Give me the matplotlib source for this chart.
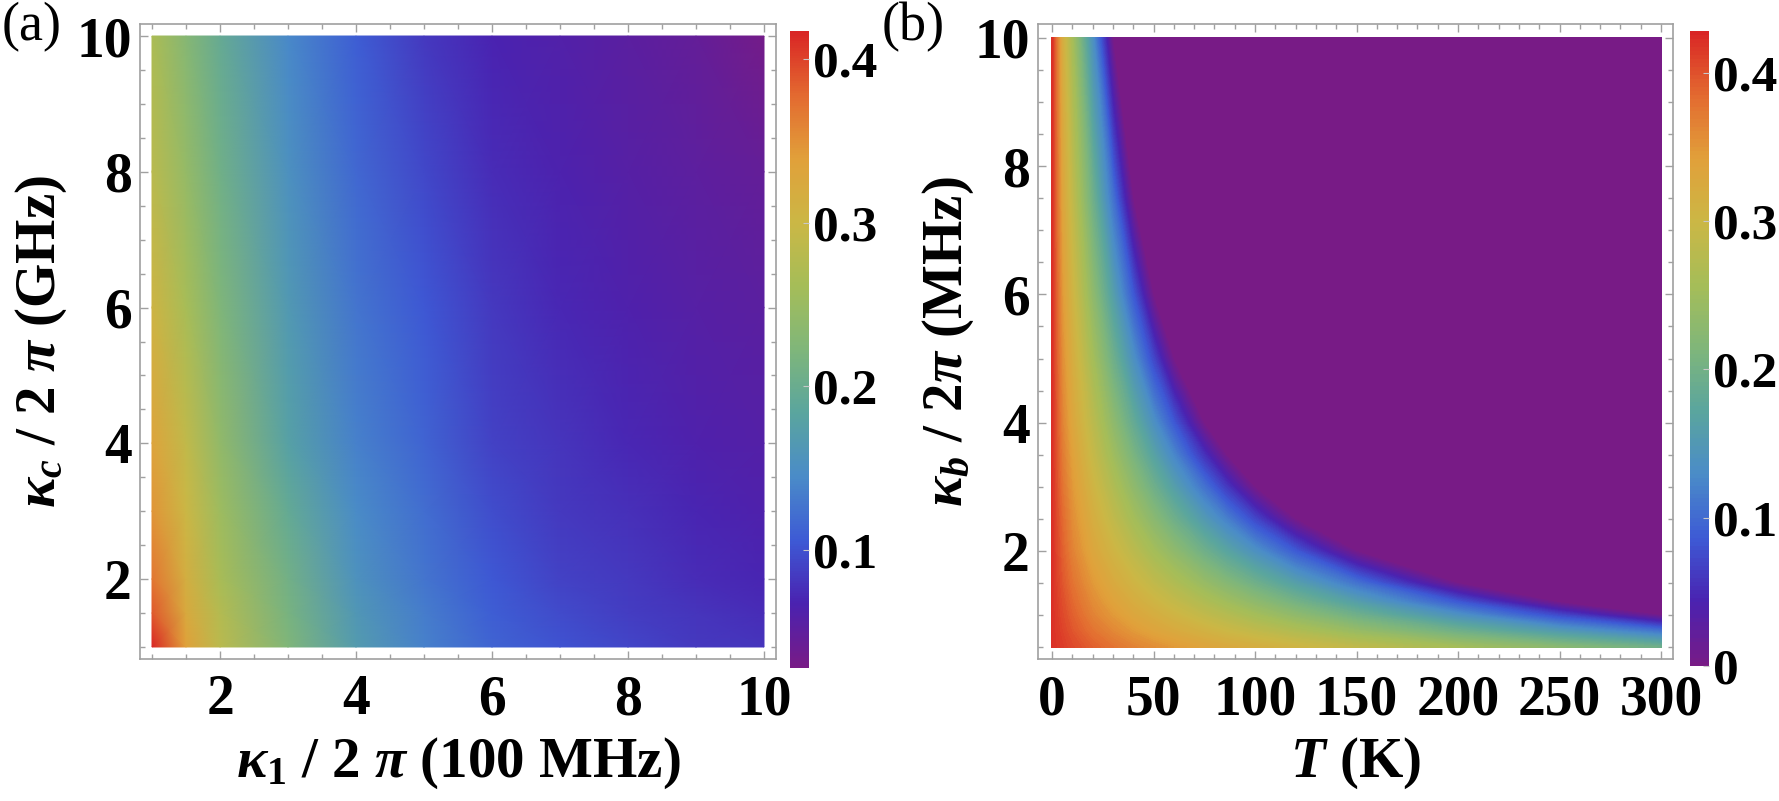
import matplotlib

matplotlib.use('Agg')
import matplotlib.pyplot as plt
from matplotlib.colors import LinearSegmentedColormap
from matplotlib.ticker import MultipleLocator
import numpy as np

# panel (a): kappa_1 / 2pi (100 MHz) vs kappa_c / 2pi (GHz)
k1_vals = [1, 1.5, 2, 3, 4, 5, 6, 7, 8, 9, 10]
kc_vals = [1, 1.5, 2, 3, 4, 6, 8, 10]
a_rows = [
    [0.417, 0.337, 0.283, 0.224, 0.169, 0.137, 0.114, 0.101, 0.092, 0.084, 0.080],
    [0.387, 0.324, 0.276, 0.216, 0.163, 0.133, 0.110, 0.095, 0.087, 0.080, 0.074],
    [0.369, 0.315, 0.266, 0.210, 0.155, 0.128, 0.105, 0.090, 0.083, 0.075, 0.070],
    [0.347, 0.301, 0.254, 0.194, 0.146, 0.121, 0.097, 0.084, 0.077, 0.070, 0.064],
    [0.333, 0.290, 0.242, 0.178, 0.137, 0.114, 0.090, 0.080, 0.072, 0.064, 0.059],
    [0.306, 0.265, 0.224, 0.165, 0.128, 0.105, 0.083, 0.072, 0.064, 0.058, 0.053],
    [0.283, 0.245, 0.208, 0.153, 0.117, 0.094, 0.075, 0.065, 0.058, 0.052, 0.046],
    [0.269, 0.230, 0.196, 0.142, 0.110, 0.084, 0.069, 0.060, 0.053, 0.046, 0.032],
]
a_range = (0.028, 0.417)

# panel (b): T (K) vs kappa_b / 2pi (MHz), 0 = purple plateau
T_vals = [0, 5, 10, 20, 30, 40, 50, 60, 75, 86, 100, 120, 150, 200, 250, 300]
kb_vals = [0.5, 0.75, 1, 1.2, 1.5, 2, 2.5, 3, 3.5, 4, 5, 6, 7.5, 10]
b_rows = [
    [.420, .413, .405, .390, .377, .365, .356, .347, .334, .326, .318, .305, .286, .255, .225, .195],
    [.420, .409, .397, .377, .361, .347, .334, .324, .310, .299, .286, .268, .240, .195, .150, .105],
    [.420, .405, .390, .365, .347, .330, .318, .305, .286, .273, .255, .231, .195, .135, .070, 0],
    [.420, .402, .385, .358, .337, .320, .305, .290, .268, .251, .231, .202, .159, .084, 0, 0],
    [.420, .397, .377, .347, .324, .305, .286, .268, .240, .220, .195, .159, .105, 0, 0, 0],
    [.420, .390, .365, .330, .305, .280, .255, .231, .195, .168, .135, .084, 0, 0, 0, 0],
    [.420, .384, .356, .318, .286, .255, .225, .195, .150, .117, .070, 0, 0, 0, 0, 0],
    [.420, .377, .347, .305, .268, .231, .195, .159, .105, .059, 0, 0, 0, 0, 0, 0],
    [.420, .371, .339, .292, .249, .207, .165, .123, .053, 0, 0, 0, 0, 0, 0, 0],
    [.420, .365, .330, .280, .231, .183, .135, .084, 0, 0, 0, 0, 0, 0, 0, 0],
    [.420, .356, .318, .255, .195, .135, .070, 0, 0, 0, 0, 0, 0, 0, 0, 0],
    [.420, .347, .305, .231, .159, .084, 0, 0, 0, 0, 0, 0, 0, 0, 0, 0],
    [.420, .334, .286, .195, .105, 0, 0, 0, 0, 0, 0, 0, 0, 0, 0, 0],
    [.420, .318, .255, .135, 0, 0, 0, 0, 0, 0, 0, 0, 0, 0, 0, 0],
]
b_range = (0.0, 0.428)

a_cbar_ticks = [0.1, 0.2, 0.3, 0.4]
b_cbar_ticks = [0, 0.1, 0.2, 0.3, 0.4]
b_cbar_labels = ['0', '0.1', '0.2', '0.3', '0.4']

# rainbow-like colour scheme
rainbow = LinearSegmentedColormap.from_list('rainbow_m', [
    '#781b86', '#4a22b0', '#3d5ad5', '#4a8cc8', '#5aa59e', '#7fb67a',
    '#a5bd58', '#cbb745', '#e1a03a', '#e36a30', '#d92525'])

plt.rcParams['font.family'] = ['Liberation Serif', 'DejaVu Serif']
plt.rcParams['font.weight'] = 'bold'
plt.rcParams['mathtext.fontset'] = 'custom'
plt.rcParams['mathtext.rm'] = 'Liberation Serif:bold'
plt.rcParams['mathtext.it'] = 'Liberation Serif:italic:bold'
plt.rcParams['mathtext.bf'] = 'Liberation Serif:bold'

W, H = 1779, 801
fig = plt.figure(figsize=(W / 100, H / 100), dpi=100)

FRAME = '#a0a0a0'
TICK_FS = 40
CBAR_FS = 37
LABEL_FS = 41


def px_rect(x0, y0, x1, y1):
    return [x0 / W, 1 - y1 / H, (x1 - x0) / W, (y1 - y0) / H]


def style_frame(ax, xmaj, xmin, ymaj, ymin):
    for s in ax.spines.values():
        s.set_color(FRAME)
        s.set_linewidth(1.2)
    ax.xaxis.set_major_locator(MultipleLocator(xmaj))
    ax.xaxis.set_minor_locator(MultipleLocator(xmin))
    ax.yaxis.set_major_locator(MultipleLocator(ymaj))
    ax.yaxis.set_minor_locator(MultipleLocator(ymin))
    ax.tick_params(which='both', direction='in', color=FRAME, width=1,
                   top=True, right=True, labelsize=TICK_FS)
    ax.tick_params(which='major', length=6)
    ax.tick_params(which='minor', length=3.5)
    ax.tick_params(axis='x', pad=11)
    ax.tick_params(axis='y', pad=6)


def style_cbar(cb, ticks, labels=None):
    cb.outline.set_visible(False)
    cb.set_ticks(ticks)
    if labels is not None:
        cb.set_ticklabels(labels)
    cb.ax.tick_params(direction='in', length=4, color='#c8c8c8', width=0.8,
                      labelsize=CBAR_FS, pad=3)


# ---- panel (a)
ax1 = fig.add_axes(px_rect(140, 24, 776, 659))
m1 = ax1.pcolormesh(k1_vals, kc_vals, np.array(a_rows), shading='gouraud',
                    cmap=rainbow, vmin=a_range[0], vmax=a_range[1], rasterized=True)
ax1.set_xlim(0.8235, 10.1765)
ax1.set_ylim(0.823, 10.177)
style_frame(ax1, 2, 0.5, 2, 0.5)
ax1.set_xlabel(r'$\kappa_1$ / 2 $\pi$ (100 MHz)', fontsize=LABEL_FS, fontweight='bold')
ax1.set_ylabel(r'$\kappa_c$ / 2 $\pi$ (GHz)', fontsize=LABEL_FS, fontweight='bold')
ax1.xaxis.set_label_coords(0.5, -0.12)
ax1.yaxis.set_label_coords(-0.112, 0.5)

cax1 = fig.add_axes(px_rect(790, 31, 809, 668))
cb1 = fig.colorbar(m1, cax=cax1)
style_cbar(cb1, a_cbar_ticks)

# ---- panel (b)
ax2 = fig.add_axes(px_rect(1038, 24, 1673, 659))
levels = np.linspace(b_range[0], b_range[1], 160)
m2 = ax2.contourf(T_vals, kb_vals, np.array(b_rows), levels=levels,
                  cmap=rainbow, vmin=b_range[0], vmax=b_range[1])
m2.set_edgecolor('face')
m2.set_linewidth(0.3)
m2.set_rasterized(True)
ax2.set_xlim(-6.9, 305.9)
ax2.set_ylim(0.313, 10.218)
style_frame(ax2, 50, 10, 2, 0.5)
ax2.set_xlabel(r'$T$ (K)', fontsize=LABEL_FS, fontweight='bold')
ax2.set_ylabel(r'$\kappa_b$ / 2$\pi$ (MHz)', fontsize=LABEL_FS, fontweight='bold')
ax2.xaxis.set_label_coords(0.5, -0.12)
ax2.yaxis.set_label_coords(-0.098, 0.5)

cax2 = fig.add_axes(px_rect(1690, 31, 1709, 666))
cb2 = fig.colorbar(m2, cax=cax2)
style_cbar(cb2, b_cbar_ticks, b_cbar_labels)

fig.text(2 / W, 1 - 2 / H, '(a)', fontsize=39, fontweight='normal', va='top', ha='left')
fig.text(882 / W, 1 - 2 / H, '(b)', fontsize=39, fontweight='normal', va='top', ha='left')

fig.savefig('out.png', dpi=100)
